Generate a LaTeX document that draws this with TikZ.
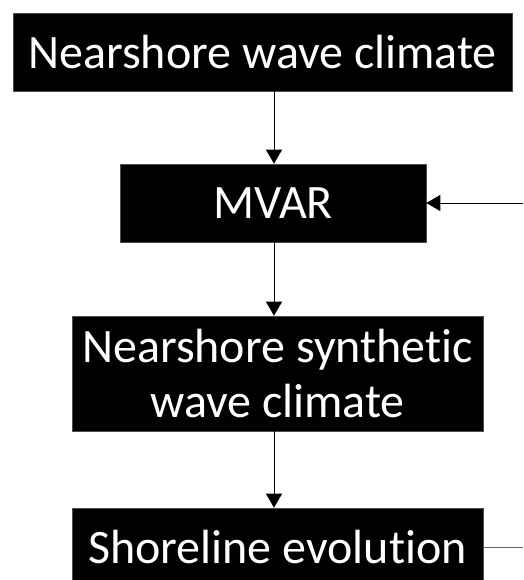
\documentclass[tikz,border=0pt]{standalone}
\usepackage{fontspec}
\setmainfont[Ligatures={NoCommon}]{Carlito}
\usetikzlibrary{arrows.meta}
\begin{document}
\begin{tikzpicture}[x=1pt,y=-1pt,
  box/.style={fill=black,draw=black!70,line width=0.6pt,text=white,inner sep=0pt,
    font=\fontsize{48}{55}\selectfont,align=center},
  arr/.style={line width=1pt,-{Triangle[length=14pt,width=16pt]}},
  ln/.style={line width=1pt,draw=black!60}]
\useasboundingbox (0,0) rectangle (523,580);
\clip (0,0) rectangle (523,580);
\node[box,minimum width=499pt,minimum height=78pt] (b1) at (262.5,52) {Nearshore wave climate};
\node[box,minimum width=306pt,minimum height=78pt] (b2) at (273,203) {MVAR};
\node[box,minimum width=411pt,minimum height=115pt] (b3) at (277.5,373.5) {Nearshore synthetic\\wave climate};
\node[box,minimum width=411pt,minimum height=78pt] (b4) at (277.5,547) {Shoreline evolution};
\coordinate (ax) at (274,0);
\coordinate (in) at (523,203);
\coordinate (out) at (523,547);
\draw[arr] (b1.south -| ax) -- (b2.north -| ax);
\draw[arr] (b2.south -| ax) -- (b3.north -| ax);
\draw[arr] (b3.south -| ax) -- (b4.north -| ax);
\draw[arr] (in) -- (b2.east);
\draw[ln] (b4.east) -- (out);
\end{tikzpicture}
\end{document}
